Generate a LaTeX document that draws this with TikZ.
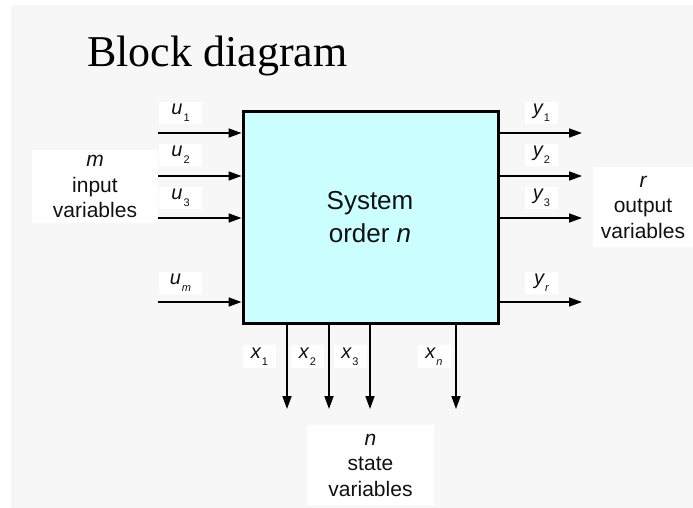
\documentclass[tikz,border=0pt]{standalone}
\usepackage{fontspec}
\setmainfont{Liberation Serif}
\newfontfamily\lsans{Liberation Sans}
\usetikzlibrary{arrows.meta}
\definecolor{bggray}{HTML}{F7F7F7}
\definecolor{boxcyan}{HTML}{CCFFFF}
\definecolor{inkc}{HTML}{111111}
\newcommand\vsub[2]{{\itshape #1}\kern1pt\raisebox{-7pt}{\fontsize{11}{11}\selectfont #2}}
\tikzset{
  sysbox/.style={draw=black, line width=3pt, fill=boxcyan, minimum width=255pt, minimum height=211pt, inner sep=0pt},
  arr/.style={draw=black, line width=1.7pt, -{Triangle[length=13pt,width=9pt]}},
  varlabel/.style={fill=white, inner sep=0pt, minimum width=43pt, minimum height=22pt, text=inkc, font=\lsans\fontsize{20}{20}\selectfont},
  xlabel/.style={varlabel, minimum width=33pt, minimum height=23pt},
  sidebox/.style={fill=white, inner sep=0pt, align=center, text=inkc, font=\lsans\fontsize{21}{25.5}\selectfont},
  systext/.style={inner sep=0pt, align=center, text=inkc, font=\lsans\fontsize{26}{33}\selectfont},
  titletext/.style={inner sep=0pt, anchor=base west, text=black, font=\fontsize{44}{44}\selectfont}
}
\begin{document}
\begin{tikzpicture}[x=1pt,y=-1pt]
\useasboundingbox (0,0) rectangle (693,508);
\fill[bggray] (11,5) rectangle (693,508);

\node[titletext] (title) at (87,67) {Block diagram};

\node[sysbox] (sys) at (370.5,217.5) {};
\node[systext] (systxt) at (370,217) {System\\order {\itshape n}};

% inputs
\coordinate (u1s) at (158,133);
\coordinate (u2s) at (158,176);
\coordinate (u3s) at (158,218);
\coordinate (ums) at (158,302);
\draw[arr] (u1s) -- (u1s -| sys.west);
\draw[arr] (u2s) -- (u2s -| sys.west);
\draw[arr] (u3s) -- (u3s -| sys.west);
\draw[arr] (ums) -- (ums -| sys.west);
\node[varlabel] (lu1) at (180.5,113) {\vsub{u}{1}};
\node[varlabel] (lu2) at (180.5,154.5) {\vsub{u}{2}};
\node[varlabel] (lu3) at (180.5,197.5) {\vsub{u}{3}};
\node[varlabel] (lum) at (180.5,282.5) {\vsub{u}{\itshape m}};
\node[sidebox, minimum width=126pt, minimum height=73pt] (inp) at (95,186.5) {{\itshape m}\\input\\variables};

% outputs
\coordinate (y1e) at (582,133);
\coordinate (y2e) at (582,176);
\coordinate (y3e) at (582,218);
\coordinate (yre) at (582,302);
\draw[arr] (y1e -| sys.east) -- (y1e);
\draw[arr] (y2e -| sys.east) -- (y2e);
\draw[arr] (y3e -| sys.east) -- (y3e);
\draw[arr] (yre -| sys.east) -- (yre);
\node[varlabel, minimum width=33pt] (ly1) at (541.5,113) {\vsub{y}{1}};
\node[varlabel, minimum width=33pt] (ly2) at (541.5,154.5) {\vsub{y}{2}};
\node[varlabel, minimum width=33pt] (ly3) at (541.5,197.5) {\vsub{y}{3}};
\node[varlabel, minimum width=33pt] (lyr) at (541.5,282.5) {\vsub{y}{\itshape r}};
\node[sidebox, minimum width=100pt, minimum height=80pt] (outp) at (643,207) {{\itshape r}\\output\\variables};

% states
\coordinate (x1e) at (287,409);
\coordinate (x2e) at (329,409);
\coordinate (x3e) at (370,409);
\coordinate (xne) at (456,409);
\draw[arr] (x1e |- sys.south) -- (x1e);
\draw[arr] (x2e |- sys.south) -- (x2e);
\draw[arr] (x3e |- sys.south) -- (x3e);
\draw[arr] (xne |- sys.south) -- (xne);
\node[xlabel] (lx1) at (259.5,356.5) {\vsub{x}{1}};
\node[xlabel] (lx2) at (307.5,356.5) {\vsub{x}{2}};
\node[xlabel] (lx3) at (350,356.5) {\vsub{x}{3}};
\node[xlabel] (lxn) at (434,356.5) {\vsub{x}{\itshape n}};
\node[sidebox, minimum width=127pt, minimum height=80pt] (st) at (370.5,465) {{\itshape n}\\state\\variables};
\end{tikzpicture}
\end{document}
